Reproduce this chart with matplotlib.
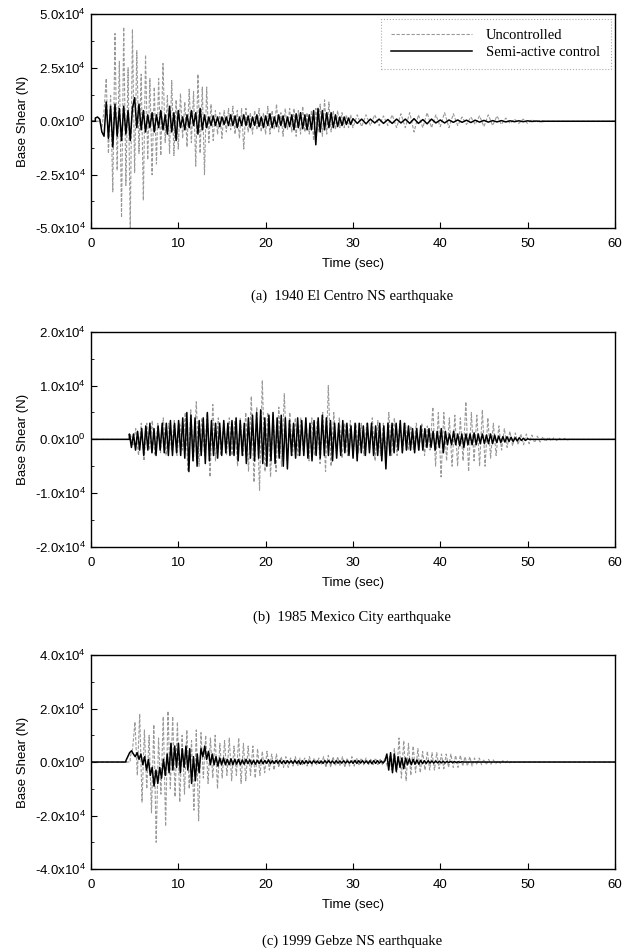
import numpy as np
import matplotlib.pyplot as plt
from matplotlib.ticker import FixedLocator

# values in units of 1e4 N, sampled at a fixed step starting at t0
# (a) 1940 El Centro NS
a_unc_t0, a_unc_dt = 1.0, 0.25
a_unc = [0.1, -0.3, 0.5, 2.0, -1.5, 1.2, -3.3, 4.1, -2.3, 2.8, -4.5, 4.4, -3.0, 2.5, -5.0, 4.3,
         -2.4, 3.3, -1.5, 2.2, -3.7, 3.1, -1.8, 2.0, -2.5, 1.6, -2.0, 2.0, -1.6, 2.7, -1.0, 1.2,
         -1.5, 1.9, -1.6, 1.0, -1.3, 1.3, -0.8, 0.9, -1.2, 1.5, -1.0, 1.4, -2.1, 2.2, -1.5, 1.6,
         -2.5, 1.6, -1.0, 0.8, -0.9, 0.5, -0.6, 0.4, -0.8, 0.5, -0.5, 0.6, -0.4, 0.7, -0.6, 0.5,
         -0.8, 0.6, -1.3, 0.6, -0.5, 0.4, -0.6, 0.5, -0.4, 0.6, -0.5, 0.4, -0.6, 0.7, -0.6, 0.5,
         -0.4, 0.8, -0.5, 0.4, -0.7, 0.6, -0.4, 0.6, -0.5, 0.6, -0.7, 0.5, -0.6, 0.7, -0.5, 0.4,
         -0.6, 0.5, -0.9, 0.6, -0.5, 0.8, -0.7, 1.0, -0.6, 0.9, -0.5, 0.5, -0.4, 0.5, -0.3, 0.4,
         -0.3, 0.3, -0.3, 0.3]
a_unc_tail_t0, a_unc_tail_dt = 30.0, 0.5
a_unc_tail = [-0.3, 0.3, -0.25, 0.3, -0.2, 0.3, -0.2, 0.25, -0.2, 0.3, -0.3, 0.35, -0.3, 0.4,
              -0.5, 0.3, -0.3, 0.4, -0.3, 0.3, -0.25, 0.4, -0.3, 0.35, -0.2, 0.2, -0.15, 0.2,
              -0.15, 0.25, -0.25, 0.3, -0.2, 0.25, -0.15, 0.15, -0.1, 0.1, -0.1, 0.1, -0.1,
              0.08, -0.05, 0.05, 0.0]
a_ctl_t0, a_ctl_dt = 0.5, 0.25
a_ctl = [0.15, 0.2, 0.1, -0.5, -0.7, 0.9, -0.8, 0.7, -1.2, 0.8, -0.7, 0.6, -0.9, 0.7, -0.6, 0.5,
         -0.9, 0.6, 1.1, -0.3, 0.8, -0.4, 0.5, -0.5, 0.3, -0.3, 0.4, -0.5, 0.3, -0.3, 0.5, -0.4,
         0.3, -0.6, 0.7, -0.5, 0.4, -0.9, 0.5, -0.3, 0.2, -0.4, 0.3, -0.3, 0.5, -0.2, 0.4, -0.6,
         0.6, -0.4, 0.3, -0.3, 0.2, -0.2, 0.25, -0.2, 0.2, -0.25, 0.2, -0.15, 0.2, -0.2, 0.3, -0.2,
         0.25, -0.3, 0.2, -0.2, 0.3, -0.2, 0.25, -0.3, 0.2, -0.2, 0.3, -0.25, 0.2, -0.3, 0.25, -0.2,
         0.35, -0.3, 0.2, -0.25, 0.3, -0.2, 0.25, -0.3, 0.2, -0.25, 0.3, -0.4, 0.35, -0.3, 0.4, -0.35,
         0.3, -0.4, 0.3, -0.4, 0.5, -1.1, 0.6, -0.5, 0.5, -0.4, 0.4, -0.3, 0.4, -0.3, 0.3, -0.25,
         0.2, -0.2, 0.2, -0.15, 0.15, -0.15]
a_ctl_tail_t0, a_ctl_tail_dt = 30.0, 0.5
a_ctl_tail = [0.12, -0.1, 0.1, -0.12, 0.1, -0.08, 0.1, -0.1, 0.08, -0.1, 0.1, -0.08, 0.1, -0.1,
              0.12, -0.1, 0.08, -0.12, 0.1, -0.08, 0.06, -0.08, 0.06, -0.05, 0.06, -0.05, 0.05,
              -0.06, 0.05, -0.04, 0.04, -0.04, 0.03, -0.03, 0.03, -0.03, 0.02, -0.02, 0.02, -0.02,
              0.02, -0.01, 0.01, -0.01, 0.0]

# (b) 1985 Mexico City
b_unc_t0, b_unc_dt = 4.5, 0.315
b_unc = [0.1, -0.1, 0.2, -0.3, 0.3, -0.4, 0.3, -0.2, 0.35, -0.3, 0.3, -0.25, 0.4, -0.3, 0.3, -0.2,
         0.35, -0.3, 0.3, -0.2, 0.5, -0.6, 0.55, -0.4, 0.7, -0.5, 0.4, -0.3, 0.5, -0.7, 0.65, -0.4,
         0.4, -0.3, 0.3, -0.3, 0.4, -0.3, 0.35, -0.5, 0.4, -0.3, 0.5, -0.6, 0.8, -0.8, 0.6, -0.95,
         1.1, -0.6, 0.5, -0.7, 0.45, -0.6, 0.6, -0.5, 0.85, -0.4, 0.5, -0.3, 0.4, -0.3, 0.4, -0.3,
         0.3, -0.4, 0.4, -0.3, 0.35, -0.45, 0.5, -0.6, 1.0, -0.5, 0.5, -0.3, 0.4, -0.35, 0.3, -0.3,
         0.35, -0.3, 0.3, -0.25, 0.3, -0.3, 0.3, -0.2, 0.4, -0.4, 0.35, -0.3, 0.3, -0.25, 0.5, -0.3,
         0.4, -0.3, 0.3, -0.25, 0.3, -0.2, 0.25, -0.2, 0.3, -0.2, 0.3, -0.3, 0.25, -0.2, 0.6, -0.5,
         0.5, -0.7, 0.5, -0.4, 0.4, -0.5, 0.45, -0.5, 0.4, -0.4, 0.7, -0.6, 0.5, -0.4, 0.45, -0.5,
         0.55, -0.5, 0.4, -0.35, 0.3, -0.3, 0.25, -0.2, 0.2, -0.15, 0.15, -0.12, 0.12, -0.1, 0.1,
         -0.1, 0.1, -0.08, 0.08, -0.06, 0.06, -0.05, 0.05, -0.04, 0.04, -0.03, 0.03, -0.02, 0.02,
         -0.02, 0.02, -0.01, 0.01, 0.0]
b_ctl_t0, b_ctl_dt = 4.4, 0.235
b_ctl = [0.1, -0.15, 0.1, -0.2, 0.15, -0.2, 0.2, -0.3, 0.25, -0.2, 0.3, -0.25, 0.2, -0.3, 0.25,
         -0.2, 0.3, -0.25, 0.3, -0.3, 0.35, -0.3, 0.3, -0.25, 0.35, -0.3, 0.4, -0.35, 0.5, -0.6,
         0.45, -0.4, 0.4, -0.5, 0.35, -0.3, 0.4, -0.45, 0.5, -0.4, 0.35, -0.3, 0.3, -0.35, 0.3,
         -0.3, 0.35, -0.25, 0.3, -0.3, 0.35, -0.3, 0.4, -0.4, 0.35, -0.3, 0.3, -0.45, 0.4, -0.35,
         0.45, -0.4, 0.5, -0.35, 0.55, -0.45, 0.4, -0.5, 0.45, -0.4, 0.5, -0.45, 0.4, -0.35, 0.45,
         -0.5, 0.4, -0.55, 0.35, -0.3, 0.3, -0.35, 0.4, -0.3, 0.35, -0.3, 0.4, -0.35, 0.3, -0.4,
         0.35, -0.3, 0.4, -0.35, 0.45, -0.3, 0.4, -0.3, 0.35, -0.4, 0.3, -0.35, 0.3, -0.3, 0.35,
         -0.25, 0.3, -0.3, 0.25, -0.35, 0.3, -0.4, 0.3, -0.25, 0.25, -0.3, 0.3, -0.25, 0.3, -0.3,
         0.25, -0.3, 0.3, -0.4, 0.25, -0.55, 0.3, -0.3, 0.3, -0.25, 0.3, -0.2, 0.35, -0.25, 0.3,
         -0.2, 0.25, -0.2, 0.2, -0.25, 0.2, -0.2, 0.25, -0.2, 0.2, -0.15, 0.2, -0.15, 0.15, -0.2,
         0.15, -0.15, 0.2, -0.25, 0.15, -0.1, 0.1, -0.1, 0.15, -0.1, 0.1, -0.12, 0.1, -0.15, 0.1,
         -0.1, 0.1, -0.1, 0.12, -0.1, 0.1, -0.08, 0.1, -0.08, 0.08, -0.08, 0.1, -0.08, 0.08,
         -0.06, 0.06, -0.06, 0.05, -0.05, 0.05, -0.04, 0.04, -0.04, 0.03, -0.03, 0.03, -0.02,
         0.02, -0.02, 0.01, 0.0]

# (c) 1999 Gebze NS
c_unc_t0, c_unc_dt = 4.5, 0.27
c_unc = [0.2, 0.5, 1.5, -0.5, 1.8, -1.5, 1.2, -1.0, 1.0, -1.9, 1.4, -3.0, 0.9, -1.2, 1.7, -2.4,
         1.9, -1.0, 1.7, -1.3, 1.5, -1.5, 1.0, -1.2, 1.2, -1.0, 0.8, -1.8, 1.2, -2.2, 1.1, -0.6,
         1.0, -0.8, 0.9, -0.6, 1.0, -1.0, 0.7, -0.6, 0.8, -0.5, 0.9, -0.7, 0.6, -0.5, 0.9, -0.8,
         0.7, -0.7, 0.6, -0.5, 0.6, -0.6, 0.5, -0.5, 0.4, -0.4, 0.4, -0.3, 0.3, -0.3, 0.3, -0.2,
         0.2, -0.2, 0.2, -0.2, 0.15, -0.15, 0.2, -0.15, 0.15, -0.1, 0.15, -0.15, 0.2, -0.15, 0.15,
         -0.1, 0.15, -0.1, 0.2, -0.2, 0.25, -0.2, 0.2, -0.15, 0.2, -0.15, 0.2, -0.2, 0.15, -0.15,
         0.2, -0.15, 0.15, -0.1, 0.15, -0.1, 0.15, -0.1, 0.1, -0.1, 0.15, -0.1, 0.1, -0.1, 0.15,
         -0.15, 0.2, -0.3, 0.5, -0.4, 0.9, -0.6, 0.8, -0.7, 0.7, -0.5, 0.6, -0.4, 0.5, -0.4, 0.4,
         -0.3, 0.4, -0.3, 0.35, -0.3, 0.35, -0.25, 0.3, -0.25, 0.3, -0.2, 0.3, -0.2, 0.25, -0.2,
         0.25, -0.15, 0.2, -0.15, 0.2, -0.15, 0.15, -0.1, 0.15, -0.1, 0.1, -0.1, 0.1, -0.08, 0.08,
         -0.06, 0.06, -0.05, 0.05, -0.04, 0.04, -0.03, 0.03, -0.02, 0.02, -0.01, 0.0]
c_ctl_t0, c_ctl_dt = 4.0, 0.215
c_ctl = [0.05, 0.2, 0.35, 0.42, 0.3, 0.2, 0.35, 0.1, 0.3, -0.1, 0.2, -0.3, 0.1, -0.5, -0.2, -0.9,
         -0.3, -0.8, -0.2, -0.6, 0.1, -0.5, 0.3, -0.4, 0.7, -0.3, 0.6, -0.2, 0.7, -0.4, 0.5, -0.2,
         0.6, -0.3, 0.5, -0.8, 0.2, -0.7, 0.3, -0.4, 0.5, 0.2, 0.6, 0.1, 0.4, -0.1, 0.3, -0.1,
         0.2, -0.15, 0.15, -0.1, 0.15, -0.1, 0.1, -0.1, 0.12, -0.1, 0.1, -0.08, 0.1, -0.1, 0.08,
         -0.08, 0.1, -0.06, 0.08, -0.08, 0.06, -0.08, 0.06, -0.06, 0.08, -0.06, 0.06, -0.05, 0.08,
         -0.06, 0.05, -0.05, 0.06, -0.05, 0.06, -0.05, 0.05, -0.06, 0.05, -0.04, 0.05, -0.05, 0.06,
         -0.05, 0.05, -0.08, 0.05, -0.06, 0.05, -0.05, 0.04, -0.05, 0.05, -0.04, 0.04, -0.05, 0.04,
         -0.05, 0.05, -0.04, 0.05, -0.04, 0.04, -0.05, 0.05, -0.04, 0.04, -0.04, 0.05, -0.04, 0.04,
         -0.04, 0.04, -0.05, 0.06, -0.05, 0.05, -0.04, 0.05, -0.04, 0.04, -0.05, 0.05, -0.06, 0.05,
         -0.05, 0.05, -0.04, 0.04, -0.04, 0.05, 0.3, -0.3, 0.35, -0.4, 0.3, -0.35, 0.2, -0.2, 0.15,
         -0.25, 0.15, -0.1, 0.12, -0.1, 0.1, -0.08, 0.08, -0.08, 0.06, -0.06, 0.05, -0.05, 0.05,
         -0.04, 0.04, -0.04, 0.04, -0.03, 0.03, -0.03, 0.03, -0.03, 0.02, -0.02, 0.02, -0.02, 0.02,
         -0.02, 0.01, -0.01, 0.01, 0.0]

ylims = [5.0, 2.0, 4.0]
yticks = [[-5.0, -2.5, 0.0, 2.5, 5.0], [-2.0, -1.0, 0.0, 1.0, 2.0], [-4.0, -2.0, 0.0, 2.0, 4.0]]
ylabels = [[r'-5.0x10$^4$', r'-2.5x10$^4$', r'0.0x10$^0$', r'2.5x10$^4$', r'5.0x10$^4$'],
           [r'-2.0x10$^4$', r'-1.0x10$^4$', r'0.0x10$^0$', r'1.0x10$^4$', r'2.0x10$^4$'],
           [r'-4.0x10$^4$', r'-2.0x10$^4$', r'0.0x10$^0$', r'2.0x10$^4$', r'4.0x10$^4$']]
captions = ['(a)  1940 El Centro NS earthquake', '(b)  1985 Mexico City earthquake',
            '(c) 1999 Gebze NS earthquake']


def series(t0, dt, vals, tail=None):
    t = list(t0 + dt * np.arange(len(vals)))
    v = list(vals)
    if tail is not None:
        t2, dt2, v2 = tail
        t += list(t2 + dt2 * np.arange(len(v2)))
        v += list(v2)
    t = np.array([0.0, t0] + t + [60.0])
    v = np.array([0.0, 0.0] + v + [0.0]) * 1e4
    return t, v


data = [
    (series(a_unc_t0, a_unc_dt, a_unc, (a_unc_tail_t0, a_unc_tail_dt, a_unc_tail)),
     series(a_ctl_t0, a_ctl_dt, a_ctl, (a_ctl_tail_t0, a_ctl_tail_dt, a_ctl_tail))),
    (series(b_unc_t0, b_unc_dt, b_unc), series(b_ctl_t0, b_ctl_dt, b_ctl)),
    (series(c_unc_t0, c_unc_dt, c_unc), series(c_ctl_t0, c_ctl_dt, c_ctl)),
]

plt.rcParams['font.family'] = ['Liberation Sans', 'DejaVu Sans']
plt.rcParams['mathtext.default'] = 'regular'
serif = ['Liberation Serif', 'DejaVu Serif']

fig = plt.figure(figsize=(6.23, 9.51), dpi=100)
boxes = [[0.146, 0.760, 0.841, 0.225], [0.146, 0.425, 0.841, 0.226], [0.146, 0.0862, 0.841, 0.225]]
cap_y = [0.688, 0.351, 0.0105]

for i in range(3):
    ax = fig.add_axes(boxes[i])
    (tu, vu), (tc, vc) = data[i]
    ax.plot(tu, vu, color='0.6', lw=0.8, ls=(0, (3, 1.5)), label='Uncontrolled')
    ax.plot(tc, vc, color='black', lw=1.1, label='Semi-active control')
    ax.set_xlim(0, 60)
    ax.set_ylim(-ylims[i] * 1e4, ylims[i] * 1e4)
    ax.set_xticks([0, 10, 20, 30, 40, 50, 60])
    ax.set_yticks([v * 1e4 for v in yticks[i]])
    ax.set_yticklabels(ylabels[i])
    ax.yaxis.set_minor_locator(FixedLocator([(yticks[i][k] + yticks[i][k + 1]) / 2 * 1e4 for k in range(4)]))
    ax.tick_params(direction='in', labelsize=9.5, length=4, right=False, top=False)
    ax.tick_params(which='minor', direction='in', length=2.5)
    ax.tick_params(axis='x', pad=7)
    ax.set_xlabel('Time (sec)', fontsize=9.5, labelpad=6)
    ax.set_ylabel('Base Shear (N)', fontsize=9.5, labelpad=4)
    for s in ax.spines.values():
        s.set_linewidth(1.0)
    if i == 0:
        leg = ax.legend(loc='upper right', prop={'family': serif, 'size': 10.5}, frameon=True,
                        fancybox=False, handlelength=5.5, handletextpad=1.0, borderpad=0.7,
                        borderaxespad=0.3, labelspacing=0.25)
        leg.get_frame().set_edgecolor('0.6')
        leg.get_frame().set_linestyle(':')
        leg.get_frame().set_linewidth(0.8)
    fig.text(0.565, cap_y[i], captions[i], ha='center', va='center', fontsize=10.5, family=serif)

fig.savefig('out.png', dpi=100)
